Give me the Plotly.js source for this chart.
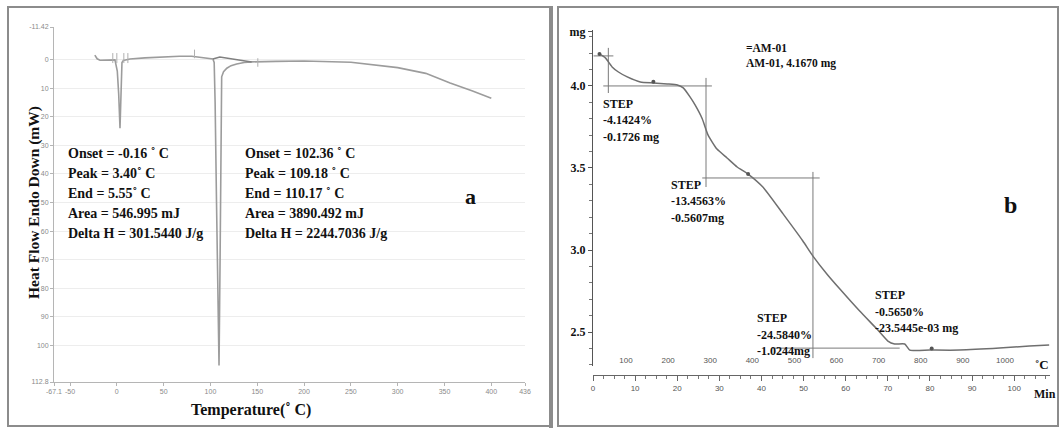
<!DOCTYPE html>
<html>
<head>
<meta charset="utf-8">
<script src="https://cdn.plot.ly/plotly-3.0.1.min.js"></script>
<style>html,body{margin:0;padding:0;background:#fff;}#chart{width:1062px;height:432px;}</style>
</head>
<body>
<div id="chart"></div>
<script>
// ---------- Panel a: DSC ----------
const dscTemp = [-23.5,-21,-18,-10,-2,0.5,2,3.4,4.3,5.5,7,14,30,50,67,80,95,102.6,104,105,106.5,108,109.18,110.3,111.2,112,114,117.5,122,128,136,144,170,200,250,280,300,330,356,380,400];
const dscHeatFlow = [-1.6,-0.3,0.2,0.1,0.1,4,12,24,10,1,0.3,-0.2,-0.6,-1.0,-1.2,-1.2,-0.6,-0.2,1,15,50,85,107,70,30,6,4.2,3.0,2.1,1.5,1.0,0.8,0.6,0.5,0.9,2.0,2.8,4.8,8.2,11,13.5];
const dscBaseTemp = [102.6,110,144];
const dscBaseHeatFlow = [-0.2,-0.9,0.8];
const dscMarkTemp = [-4.3,-4.3,null,0,0,null,7.5,7.5,null,11.8,11.8,null,83,83,null,150.6,150.6];
const dscMarkHeatFlow = [-2.3,1.2,null,-2.3,1.2,null,-2.3,1.2,null,-2.3,1.2,null,-3.5,-0.5,null,-0.5,2.5];
const dscXTicks = [-67.1,-50,0,50,100,150,200,250,300,350,400,436];
const dscYTicks = [-11.42,0,10,20,30,40,50,60,70,80,90,100,112.8];
const dscPeak1Text = ["Onset = -0.16 ˚ C","Peak = 3.40˚ C","End = 5.55˚ C","Area = 546.995 mJ","Delta H = 301.5440 J/g"];
const dscPeak2Text = ["Onset = 102.36 ˚ C","Peak = 109.18 ˚ C","End = 110.17 ˚ C","Area = 3890.492 mJ","Delta H = 2244.7036 J/g"];

// ---------- Panel b: TGA ----------
const tgaTemp = [37,51,67,82,103,134,165,198,222,236,252,264,281,295,316,340,364,390,425,473,520,544,577,608,655,696,722,738,762,774,821,892,987,1058,1105];
const tgaMass = [4.195,4.171,4.116,4.085,4.055,4.024,4.018,4.012,4.006,3.988,3.933,3.884,3.80,3.70,3.615,3.561,3.506,3.463,3.384,3.22,3.055,2.963,2.854,2.762,2.628,2.518,2.445,2.427,2.427,2.39,2.39,2.39,2.402,2.415,2.421];
const tgaStepTemp = [23,70,null,58,58,null,46,304,null,290,290,null,281,560,null,544,544,null,447,750];
const tgaStepMass = [4.183,4.183,null,4.232,3.957,null,4.0,4.0,null,4.049,3.384,null,3.439,3.439,null,3.476,2.341,null,2.402,2.402];
const tgaMarkTemp = [37,165,390,826];
const tgaMarkMass = [4.195,4.025,3.463,2.40];
const tgaTempTicks = [100,200,300,400,500,600,700,800,900,1000];
const tgaMinTicks = [0,10,20,30,40,50,60,70,80,90,100];
const tgaMassTicks = [2.5,3.0,3.5,4.0,4.33];
const tgaMassTickText = ["2.5","3.0","3.5","4.0","mg"];
const sampleText = ["=AM-01","AM-01, 4.1670 mg"];
const stepTexts = [
  ["STEP","-4.1424%","-0.1726 mg"],
  ["STEP","-13.4563%","-0.5607mg"],
  ["STEP","-24.5840%","-1.0244mg"],
  ["STEP","-0.5650%","-23.5445e-03 mg"]
];

// ---------- layout helpers (pixel -> paper) ----------
const W = 1062, H = 432;
const px = v => v / W;
const py = v => 1 - v / H;
const SERIF = "Liberation Serif, Times New Roman, serif";
const boldFont = (s) => ({family: SERIF, size: s, color: "#111", weight: "bold"});

const annotations = [];
function addText(text, x, y, size, anchor) {
  annotations.push({text: text, x: px(x), y: py(y), xref: "paper", yref: "paper",
    xanchor: anchor || "left", yanchor: "middle", showarrow: false, font: boldFont(size)});
}
dscPeak1Text.forEach((t, i) => addText(t, 66, 153 + i * 20, 14));
dscPeak2Text.forEach((t, i) => addText(t, 243, 153 + i * 20, 14));
addText("a", 470, 196, 22, "center");
annotations.push({text: "Heat Flow Endo Down (mW)", x: px(34), y: py(203), xref: "paper", yref: "paper",
  textangle: -90, showarrow: false, xanchor: "center", yanchor: "middle", font: boldFont(15.5)});
addText("Temperature(˚ C)", 251, 410, 16, "center");

sampleText.forEach((t, i) => addText(t, 744, 48 + i * 15, 11.5));
const stepPos = [[601, 104], [669, 185], [755, 318], [873, 295]];
stepTexts.forEach((lines, k) => lines.forEach((t, i) => addText(t, stepPos[k][0], stepPos[k][1] + i * 16.5, 12)));
addText("b", 1010, 205, 24, "center");
addText("˚C", 1042, 364, 13, "center");
addText("Min", 1045, 394, 12, "center");

const traces = [
  {x: dscTemp, y: dscHeatFlow, xaxis: "x", yaxis: "y", mode: "lines", line: {color: "#9c9c9c", width: 1.6}, hoverinfo: "skip"},
  {x: dscBaseTemp, y: dscBaseHeatFlow, xaxis: "x", yaxis: "y", mode: "lines", line: {color: "#808080", width: 1.6}, hoverinfo: "skip"},
  {x: dscMarkTemp, y: dscMarkHeatFlow, xaxis: "x", yaxis: "y", mode: "lines", line: {color: "#b0b0b0", width: 1}, connectgaps: false, hoverinfo: "skip"},
  {x: tgaStepTemp, y: tgaStepMass, xaxis: "x2", yaxis: "y2", mode: "lines", line: {color: "#7a7a7a", width: 1}, connectgaps: false, hoverinfo: "skip"},
  {x: tgaTemp, y: tgaMass, xaxis: "x2", yaxis: "y2", mode: "lines", line: {color: "#6f6f6f", width: 1.5, shape: "spline", smoothing: 0.5}, hoverinfo: "skip"},
  {x: tgaMarkTemp, y: tgaMarkMass, xaxis: "x2", yaxis: "y2", mode: "markers", marker: {color: "#555", size: 4, symbol: "circle"}, hoverinfo: "skip"},
  {x: [], y: [], xaxis: "x3", yaxis: "y2", mode: "lines", hoverinfo: "skip"}
];

const smallTick = {size: 7, color: "#8a8a8a", family: "Liberation Sans, Arial, sans-serif"};
const layout = {
  width: W, height: H,
  margin: {l: 0, r: 0, t: 0, b: 0},
  paper_bgcolor: "#fff", plot_bgcolor: "rgba(0,0,0,0)",
  showlegend: false,
  xaxis: {domain: [px(54), px(525)], range: [-67.1, 436], anchor: "y",
    tickmode: "array", tickvals: dscXTicks, ticktext: dscXTicks.map(String),
    showline: true, linecolor: "#b5b5b5", linewidth: 1, ticks: "outside", ticklen: 3, tickcolor: "#b5b5b5",
    tickfont: smallTick, showgrid: false, zeroline: false, automargin: false},
  yaxis: {domain: [py(382), py(27)], range: [112.8, -11.42], anchor: "x",
    tickmode: "array", tickvals: dscYTicks, ticktext: dscYTicks.map(String),
    showgrid: true, gridcolor: "#ededed", gridwidth: 1,
    showline: true, linecolor: "#b5b5b5", ticks: "outside", ticklen: 3, tickcolor: "#b5b5b5",
    tickfont: smallTick, zeroline: false, automargin: false},
  xaxis2: {domain: [px(593), px(1050)], range: [21.6, 1107], anchor: "free", position: py(354),
    tickmode: "array", tickvals: tgaTempTicks, ticktext: tgaTempTicks.map(String),
    showline: false, ticks: "", tickfont: {size: 8, color: "#555", family: "Liberation Sans, Arial, sans-serif"},
    showgrid: false, zeroline: false, automargin: false},
  yaxis2: {domain: [py(366), py(30)], range: [2.293, 4.341], anchor: "x2",
    tickmode: "array", tickvals: tgaMassTicks, ticktext: tgaMassTickText,
    showline: true, linecolor: "#555", ticks: "outside", ticklen: 4, tickcolor: "#555",
    minor: {tickmode: "linear", tick0: 2.3, dtick: 0.1, ticks: "outside", ticklen: 3, tickcolor: "#777"},
    tickfont: boldFont(12), showgrid: false, zeroline: false, automargin: false},
  xaxis3: {overlaying: "x2", anchor: "free", position: py(375), range: [0, 108.5],
    tickmode: "array", tickvals: tgaMinTicks, ticktext: tgaMinTicks.map(String),
    showline: true, linecolor: "#666", ticks: "outside", ticklen: 5, tickcolor: "#666",
    minor: {tickmode: "linear", tick0: 0, dtick: 2.5, ticks: "outside", ticklen: 3, tickcolor: "#777"},
    tickfont: {size: 8, color: "#555", family: "Liberation Sans, Arial, sans-serif"},
    showgrid: false, zeroline: false, automargin: false},
  shapes: [
    {type: "rect", xref: "paper", yref: "paper", x0: px(8), x1: px(550), y0: py(426), y1: py(7), line: {color: "#8c8c8c", width: 2}},
    {type: "line", xref: "paper", yref: "paper", x0: px(551), x1: px(551), y0: py(428), y1: py(6), line: {color: "#8c8c8c", width: 4}},
    {type: "rect", xref: "paper", yref: "paper", x0: px(558), x1: px(1058), y0: py(426), y1: py(7), line: {color: "#8c8c8c", width: 2}}
  ],
  annotations: annotations
};

Plotly.newPlot("chart", traces, layout, {displayModeBar: false, staticPlot: true});
</script>
</body>
</html>
